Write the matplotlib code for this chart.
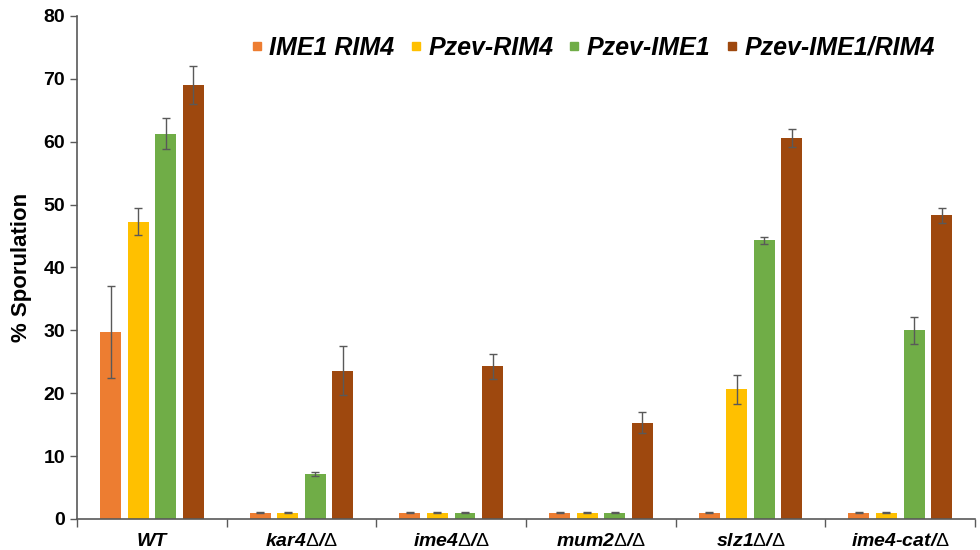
import matplotlib.pyplot as plt
import numpy as np
from matplotlib.lines import Line2D

plt.rcParams["font.family"] = ["Liberation Sans", "DejaVu Sans"]
plt.rcParams["mathtext.fontset"] = "custom"
plt.rcParams["mathtext.rm"] = "Liberation Sans"
plt.rcParams["mathtext.it"] = "Liberation Sans:italic"
plt.rcParams["mathtext.bf"] = "Liberation Sans:bold"

strains = ["WT", "kar4Δ/Δ", "ime4Δ/Δ", "mum2Δ/Δ", "slz1Δ/Δ", "ime4-cat/Δ"]
series = ["IME1 RIM4", "Pzev-RIM4", "Pzev-IME1", "Pzev-IME1/RIM4"]
colors = ["#ED7D31", "#FFC000", "#70AD47", "#9E480E"]

ime1_rim4 = [29.7, 1.0, 1.0, 1.0, 1.0, 1.0]
pzev_rim4 = [47.3, 1.0, 1.0, 1.0, 20.6, 1.0]
pzev_ime1 = [61.3, 7.2, 1.0, 1.0, 44.3, 30.0]
pzev_both = [69.0, 23.6, 24.3, 15.3, 60.6, 48.3]

ime1_rim4_err = [7.3, 0.05, 0.05, 0.05, 0.05, 0.05]
pzev_rim4_err = [2.1, 0.05, 0.05, 0.05, 2.3, 0.05]
pzev_ime1_err = [2.4, 0.3, 0.05, 0.05, 0.6, 2.1]
pzev_both_err = [3.0, 3.9, 2.0, 1.7, 1.4, 1.2]

values = [ime1_rim4, pzev_rim4, pzev_ime1, pzev_both]
errors = [ime1_rim4_err, pzev_rim4_err, pzev_ime1_err, pzev_both_err]

fig = plt.figure(figsize=(9.8, 5.5), dpi=100)
ax = fig.add_axes([0.0786, 0.0564, 0.9164, 0.9146])

x = np.arange(len(strains))
width = 0.14
step = 0.184
for i, (vals, errs, col) in enumerate(zip(values, errors, colors)):
    off = (i - 1.5) * step
    ax.bar(x + off, vals, width, color=col, edgecolor="none", zorder=2)
    ax.errorbar(x + off, vals, yerr=errs, fmt="none", ecolor="#595959",
                elinewidth=1, capsize=3, capthick=1, zorder=3)

ax.set_xlim(-0.5, len(strains) - 0.5)
ax.set_ylim(0, 80)
ax.set_yticks(range(0, 81, 10))
ax.set_xticks(x)
# gene names bold italic, delta upright and thin
ax.set_xticklabels([s.replace("Δ", r"$\Delta$") for s in strains],
                   fontsize=14, fontweight="bold", style="italic")
ax.set_xticks(np.arange(-0.5, len(strains)), minor=True)
ax.tick_params(axis="x", which="major", length=0, pad=10)
ax.tick_params(axis="x", which="minor", length=6, color="#595959", width=1)
ax.tick_params(axis="y", length=5, color="#595959", width=1, labelsize=14)
for lab in ax.get_yticklabels():
    lab.set_fontweight("bold")

for s in ["top", "right"]:
    ax.spines[s].set_visible(False)
for s in ["left", "bottom"]:
    ax.spines[s].set_color("#595959")
    ax.spines[s].set_linewidth(1.2)

ax.set_ylabel("% Sporulation", fontsize=16, fontweight="bold", labelpad=8)

handles = [Line2D([], [], marker="s", linestyle="none", markersize=6,
                  markerfacecolor=c, markeredgecolor=c) for c in colors]
leg = ax.legend(handles, series, loc="upper right", bbox_to_anchor=(0.98, 1.005),
                ncol=4, frameon=False, handletextpad=0.1, columnspacing=0.45,
                handlelength=0.8,
                prop={"size": 18, "weight": "bold", "style": "italic"})

fig.savefig("out.png", dpi=100)
